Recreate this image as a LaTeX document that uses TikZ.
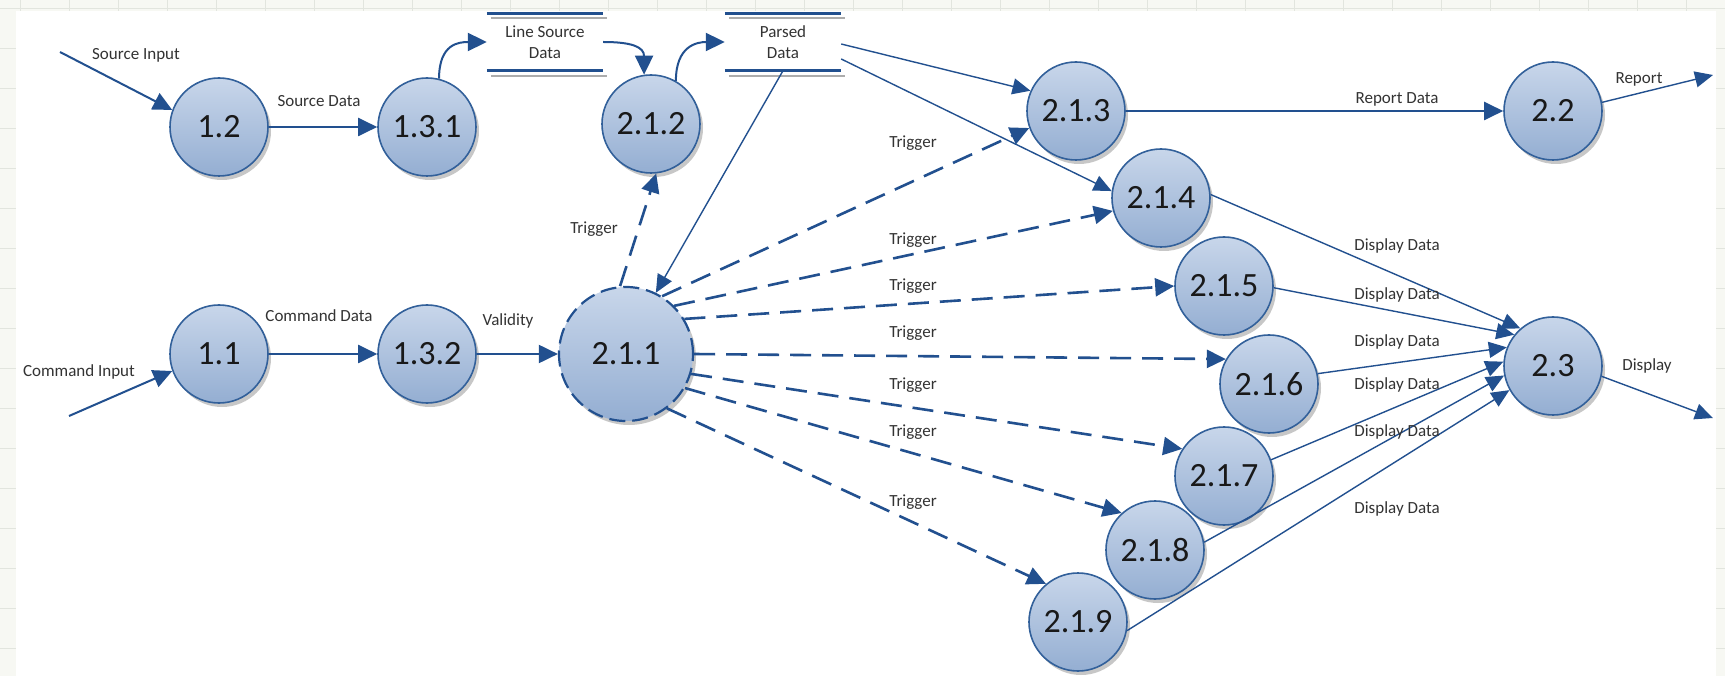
\documentclass[tikz,border=0pt]{standalone}
\usepackage{fontspec}
\setmainfont{Carlito}
\usetikzlibrary{arrows.meta,shadows}
\definecolor{flow}{HTML}{22508F}
\definecolor{rim}{HTML}{32609A}
\definecolor{ftop}{HTML}{C8D6EA}
\definecolor{fbot}{HTML}{94AED2}
\definecolor{lbl}{HTML}{333333}
\definecolor{gridc}{HTML}{E2E5DE}
\definecolor{edgec}{HTML}{F7F8F3}
\begin{document}
\begin{tikzpicture}[x=1pt,y=-1pt,
  proc/.style={circle, minimum size=98pt, inner sep=0pt, draw=rim, line width=1.6pt,
    top color=ftop, bottom color=fbot,
    drop shadow={shadow xshift=3pt, shadow yshift=-4pt, fill=black!40, opacity=0.55},
    font=\fontsize{34}{36}\selectfont, text=black!90},
  flowline/.style={draw=flow, line width=2pt, -{Triangle[length=19pt,width=18pt]}},
  thinflow/.style={draw=flow, line width=1.4pt, -{Triangle[length=18pt,width=16pt]}},
  trig/.style={draw=flow, line width=2.6pt, dash pattern=on 21pt off 11pt, -{Triangle[length=19pt,width=18pt]}},
  lab/.style={font=\fontsize{17}{19}\selectfont, text=lbl, inner sep=1pt},
  store/.style={minimum width=116pt, minimum height=57pt, inner sep=0pt, align=center,
    font=\fontsize{17}{21}\selectfont, text=lbl},
  topline/.style={draw=flow, line width=3pt},
  shline/.style={draw=gray!65, line width=2pt}]
\useasboundingbox (0,0) rectangle (1725,676);
% background
\fill[edgec] (0,0) rectangle (1725,676);
\foreach \gx in {20,69,...,1725} \draw[gridc, line width=0.8pt] (\gx,0) -- (\gx,676);
\foreach \gy in {8,48,...,676} \draw[gridc, line width=0.8pt] (0,\gy) -- (1725,\gy);
\fill[white] (16,11) rectangle (1716,676);

% processes
\node[proc] (n12) at (219,127) {1.2};
\node[proc] (n131) at (427,127) {1.3.1};
\node[proc] (n212) at (651,124) {2.1.2};
\node[proc] (n213) at (1076,111) {2.1.3};
\node[proc] (n22) at (1553,111) {2.2};
\node[proc] (n214) at (1161,198) {2.1.4};
\node[proc] (n215) at (1224,286) {2.1.5};
\node[proc] (n216) at (1269,384) {2.1.6};
\node[proc] (n11) at (219,354) {1.1};
\node[proc] (n132) at (427,354) {1.3.2};
\node[proc, minimum size=134pt, line width=2.2pt, draw=flow, dash pattern=on 16pt off 7pt] (n211) at (626,354) {2.1.1};
\node[proc] (n23) at (1553,366) {2.3};
\node[proc] (n217) at (1224,476) {2.1.7};
\node[proc] (n218) at (1155,550) {2.1.8};
\node[proc] (n219) at (1078,622) {2.1.9};

% data stores
\node[store] (lsd) at (545,42) {Line Source\\Data};
\node[store] (pd) at (783,42) {Parsed\\Data};
\foreach \s in {lsd,pd}{
  \draw[shline] ([shift={(4pt,-5pt)}]\s.north west) -- ([shift={(4pt,-5pt)}]\s.north east);
  \draw[topline] (\s.north west) -- (\s.north east);
  \draw[shline] ([shift={(4pt,-5pt)}]\s.south west) -- ([shift={(4pt,-5pt)}]\s.south east);
  \draw[topline] (\s.south west) -- (\s.south east);
}

% free ends
\coordinate (srcin) at (60,52);
\coordinate (cmdin) at (69,416);
\coordinate (repout) at (1713,75);
\coordinate (dispout) at (1713,418);

% flows
\draw[flowline] (srcin) -- (n12.160);
\draw[flowline] (n12) -- (n131);
\draw[flowline] (n131.76) .. controls +(0,-35) and +(-28,0) .. (lsd.west);
\draw[flowline] (lsd.east) .. controls +(28,0) and +(0,-28) .. (n212.98);
\draw[flowline] (n212.60) .. controls +(0,-35) and +(-28,0) .. (pd.west);
\draw[thinflow] (pd.south) -- (n211.64);
\draw[thinflow] ([yshift=-2pt]pd.east) -- (n213.156);
\draw[thinflow] ([yshift=-17pt]pd.east) -- (n214.172);

\draw[flowline] (cmdin) -- (n11.200);
\draw[flowline] (n11) -- (n132);
\draw[flowline] (n132) -- (n211);

% triggers
\draw[trig] (n211.95) -- (n212.-84);
\draw[trig] (n211.58) -- (n213.200);
\draw[trig] (n211.45) -- (n214.195);
\draw[trig] (n211.31) -- (n215.180);
\draw[trig] (n211.0) -- (n216.150);
\draw[trig] (n211.-17) -- (n217.147);
\draw[trig] (n211.-30) -- (n218.132);
\draw[trig] (n211.-53) -- (n219.130);

% outputs
\draw[flowline] (n213) -- (n22);
\draw[thinflow] (n22.10) -- (repout);
\draw[thinflow] (n23.-12) -- (dispout);
\draw[thinflow] (n214.4) -- (n23.131);
\draw[thinflow] (n215.-2) -- (n23.141);
\draw[thinflow] (n216.12) -- (n23.158);
\draw[thinflow] (n217.19) -- (n23.175);
\draw[thinflow] (n218.9) -- (n23.191);
\draw[thinflow] (n219.-10) -- (n23.209);

% labels
\node[lab] (lsi) at (136,55) {Source Input};
\node[lab] (lsdat) at (319,101) {Source Data};
\node[lab] (lci) at (79,372) {Command Input};
\node[lab] (lcd) at (319,316) {Command Data};
\node[lab] (lval) at (508,321) {Validity};
\node[lab] (lt0) at (594,229) {Trigger};
\node[lab] (lt1) at (913,143) {Trigger};
\node[lab] (lt2) at (913,240) {Trigger};
\node[lab] (lt3) at (913,286) {Trigger};
\node[lab] (lt4) at (913,333) {Trigger};
\node[lab] (lt5) at (913,385) {Trigger};
\node[lab] (lt6) at (913,432) {Trigger};
\node[lab] (lt7) at (913,502) {Trigger};
\node[lab] (lrd) at (1397,99) {Report Data};
\node[lab] (lrep) at (1639,79) {Report};
\node[lab] (ld1) at (1397,246) {Display Data};
\node[lab] (ld2) at (1397,295) {Display Data};
\node[lab] (ld3) at (1397,342) {Display Data};
\node[lab] (ld4) at (1397,385) {Display Data};
\node[lab] (ld5) at (1397,432) {Display Data};
\node[lab] (ld6) at (1397,509) {Display Data};
\node[lab] (ldisp) at (1647,366) {Display};
\end{tikzpicture}
\end{document}
